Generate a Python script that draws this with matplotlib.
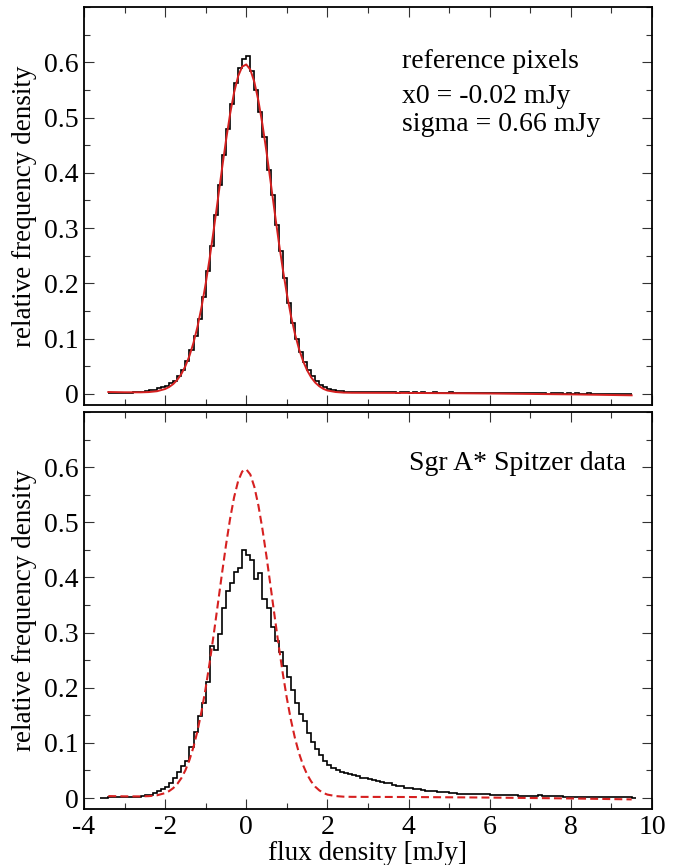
import numpy as np
import matplotlib
matplotlib.use('Agg')
import matplotlib.pyplot as plt
from matplotlib.ticker import MultipleLocator

plt.rcParams['font.family'] = ['Liberation Serif', 'DejaVu Serif']

# Histogramas (largura de bin 0.1 mJy)
BIN = 0.1
inicio_ref = -3.4
hist_ref = [
    0.001, 0.001, 0.001, 0.001, 0.002, 0.002, 0.003, 0.003, 0.004,
    0.005, 0.007, 0.008, 0.010, 0.012, 0.015, 0.019, 0.024, 0.032, 0.044,
    0.060, 0.080, 0.104, 0.136, 0.175, 0.222, 0.268, 0.324, 0.378, 0.433,
    0.480, 0.524, 0.562, 0.590, 0.606,
    0.612, 0.585, 0.550, 0.510, 0.465, 0.406, 0.360, 0.305, 0.258, 0.210,
    0.165, 0.128, 0.100, 0.076, 0.058, 0.043, 0.032, 0.024, 0.017, 0.012,
    0.009, 0.007, 0.006, 0.005, 0.004, 0.004,
    0.004, 0.003, 0.004, 0.003, 0.003, 0.004, 0.003, 0.003, 0.003, 0.003,
    0.003, 0.002, 0.003, 0.003, 0.002, 0.003, 0.002, 0.003, 0.002, 0.002,
    0.003, 0.002, 0.002, 0.002, 0.003, 0.002, 0.002, 0.002, 0.002, 0.002,
    0.002, 0.002, 0.001, 0.002, 0.002, 0.002, 0.001, 0.002, 0.001, 0.002,
    0.001, 0.001, 0.002, 0.001, 0.001, 0.001, 0.001, 0.001, 0.000, 0.001,
    0.001, 0.001, 0.000, 0.001, 0.000, 0.001, 0.000, 0.000, 0.001, 0.000,
    0.000, 0.000, 0.000, 0.000, 0.000, 0.000, 0.000, 0.000, 0.000,
]

inicio_sgr = -3.6
hist_sgr = [
    0.000, 0.000, 0.001, 0.001, 0.001, 0.001, 0.001, 0.002, 0.002, 0.002,
    0.003, 0.005, 0.006, 0.009, 0.012, 0.016, 0.020, 0.027, 0.037, 0.048,
    0.058, 0.068, 0.092, 0.120, 0.148, 0.172, 0.210, 0.275, 0.268, 0.298,
    0.345, 0.375, 0.390, 0.410, 0.418, 0.450, 0.440, 0.432, 0.398, 0.408,
    0.360, 0.345, 0.310, 0.285, 0.265, 0.240, 0.220, 0.196, 0.172, 0.152,
    0.140, 0.118, 0.102, 0.088, 0.078, 0.068, 0.060, 0.054, 0.050, 0.048,
    0.046, 0.043, 0.041, 0.039, 0.037, 0.036, 0.035, 0.032, 0.031, 0.029,
    0.028, 0.027, 0.024, 0.022, 0.021, 0.019, 0.018, 0.016, 0.016, 0.014,
    0.013, 0.013, 0.012, 0.011, 0.011, 0.010, 0.009, 0.009, 0.008, 0.008,
    0.008, 0.007, 0.007, 0.008, 0.007, 0.007, 0.006, 0.006, 0.006, 0.005,
    0.005, 0.005, 0.005, 0.004, 0.004, 0.004, 0.004, 0.004, 0.006, 0.004,
    0.003, 0.003, 0.003, 0.003, 0.002, 0.002, 0.002, 0.002, 0.002, 0.002,
    0.002, 0.001, 0.002, 0.001, 0.001, 0.001, 0.001, 0.001, 0.001, 0.001,
    0.001, 0.000,
]

# Ajuste gaussiano (x0 = -0.02, sigma = 0.66)
ajuste_x = [-3.4, -3.0, -2.6, -2.4, -2.2, -2.0, -1.9, -1.8, -1.7, -1.6,
            -1.5, -1.4, -1.3, -1.2, -1.1, -1.0, -0.9, -0.8, -0.7, -0.6,
            -0.5, -0.4, -0.3, -0.2, -0.1, 0.0, 0.1, 0.2, 0.3, 0.4,
            0.5, 0.6, 0.7, 0.8, 0.9, 1.0, 1.1, 1.2, 1.3, 1.4,
            1.5, 1.6, 1.7, 1.8, 1.9, 2.0, 2.2, 2.4, 2.6, 3.0,
            4.0, 6.0, 8.0, 9.5]
ajuste_y = [0.0035, 0.0030, 0.0029, 0.0034, 0.0049, 0.0089, 0.0126, 0.0179, 0.0255, 0.0360,
            0.0503, 0.0689, 0.0927, 0.1222, 0.1579, 0.1995, 0.2464, 0.2978, 0.3517, 0.4061,
            0.4583, 0.5057, 0.5453, 0.5748, 0.5921, 0.5961, 0.5867, 0.5642, 0.5303, 0.4872,
            0.4375, 0.3839, 0.3293, 0.2760, 0.2262, 0.1812, 0.1419, 0.1087, 0.0813, 0.0596,
            0.0427, 0.0300, 0.0205, 0.0139, 0.0092, 0.0062, 0.0035, 0.0024, 0.0021, 0.0020,
            0.0018, 0.0008, -0.0008, -0.0025]

rotulos_x = ['-4', '-2', '0', '2', '4', '6', '8', '10']
ticks_x = [-4, -2, 0, 2, 4, 6, 8, 10]
rotulos_y = ['0', '0.1', '0.2', '0.3', '0.4', '0.5', '0.6']
ticks_y = [0, 0.1, 0.2, 0.3, 0.4, 0.5, 0.6]

FS_TICK = 20
FS_TXT = 20
FS_LAB = 19.5

fig = plt.figure(figsize=(6.94, 8.65), dpi=100)
ax1 = fig.add_axes([0.121, 0.5318, 0.8184, 0.4601])
ax2 = fig.add_axes([0.121, 0.0647, 0.8184, 0.4590])


def configura(ax):
    ax.set_xlim(-4, 10)
    ax.set_ylim(-0.02, 0.70)
    ax.set_xticks(ticks_x)
    ax.set_yticks(ticks_y)
    ax.set_yticklabels(rotulos_y)
    ax.xaxis.set_minor_locator(MultipleLocator(1))
    ax.yaxis.set_minor_locator(MultipleLocator(0.05))
    ax.tick_params(which='both', direction='in', top=True, right=True,
                   width=0.8, color='#333333', labelsize=FS_TICK, pad=4)
    ax.tick_params(which='major', length=7.5)
    ax.tick_params(which='minor', length=4.3)
    for s in ax.spines.values():
        s.set_linewidth(1.3)
    ax.set_ylabel('relative frequency density', fontsize=FS_LAB)
    ax.yaxis.set_label_coords(-0.083, 0.5)


def bordas(inicio, valores):
    return np.round(inicio + BIN * np.arange(len(valores) + 1), 4)


# Painel superior: pixels de referencia
configura(ax1)
ax1.stairs(hist_ref, bordas(inicio_ref, hist_ref), baseline=None, color='black', lw=1.2)
ax1.plot(ajuste_x, ajuste_y, color='#d62020', lw=1.4)
ax1.set_xticklabels([])
ax1.text(3.84, 0.5895, 'reference pixels', fontsize=FS_TXT)
ax1.text(3.84, 0.526, 'x0 = -0.02 mJy', fontsize=FS_TXT)
ax1.text(3.84, 0.4756, 'sigma = 0.66 mJy', fontsize=FS_TXT)

# Painel inferior: dados Spitzer
configura(ax2)
ax2.stairs(hist_sgr, bordas(inicio_sgr, hist_sgr), baseline=None, color='black', lw=1.2)
ax2.plot(ajuste_x, ajuste_y, color='#d62020', lw=1.5, dashes=(3.8, 2.0))
ax2.set_xticklabels(rotulos_x)
ax2.text(4.0, 0.595, 'Sgr A* Spitzer data', fontsize=FS_TXT)
ax2.set_xlabel('flux density [mJy]', fontsize=FS_LAB, labelpad=1)

plt.savefig('out.png', dpi=100)
plt.close()
